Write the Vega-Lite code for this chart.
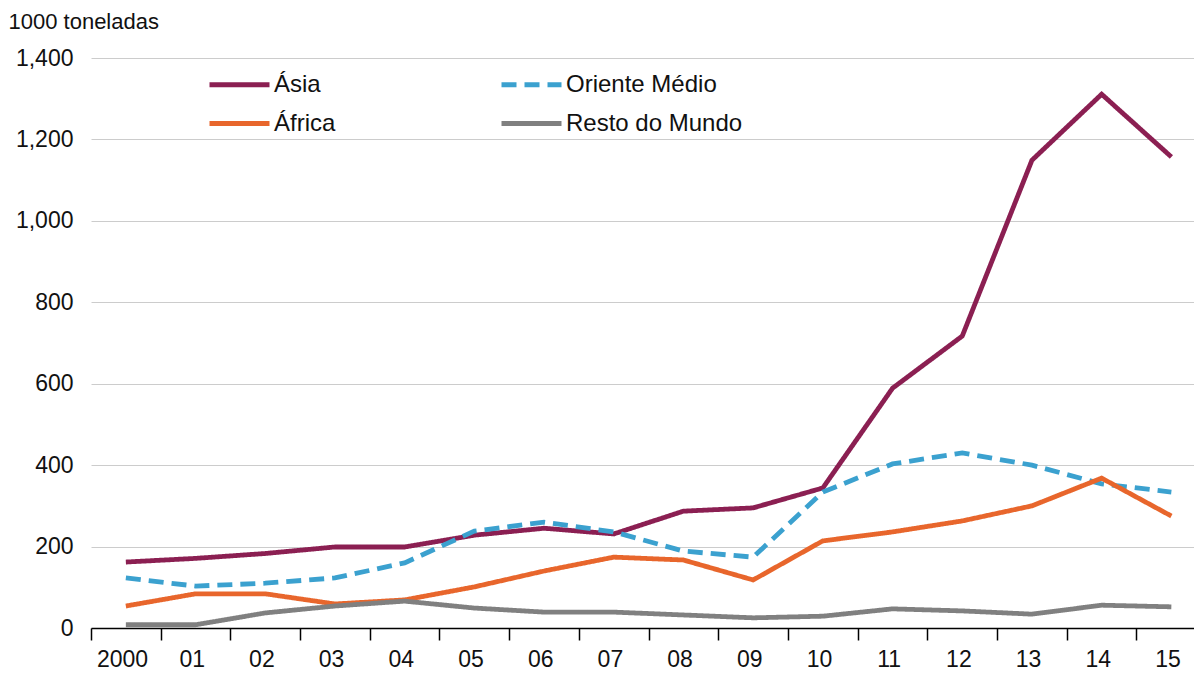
{
  "$schema": "https://vega.github.io/schema/vega-lite/v6.json",
  "width": 1103,
  "height": 570,
  "autosize": {"type": "none"},
  "padding": {"left": 91, "top": 58, "right": 0, "bottom": 46},
  "background": "white",
  "config": {"view": {"stroke": null}, "font": "Liberation Sans"},
  "data": {"values": [
    {"ano": 2000, "regiao": "Ásia", "valor": 162},
    {"ano": 2001, "regiao": "Ásia", "valor": 171},
    {"ano": 2002, "regiao": "Ásia", "valor": 183},
    {"ano": 2003, "regiao": "Ásia", "valor": 199},
    {"ano": 2004, "regiao": "Ásia", "valor": 199},
    {"ano": 2005, "regiao": "Ásia", "valor": 228},
    {"ano": 2006, "regiao": "Ásia", "valor": 245},
    {"ano": 2007, "regiao": "Ásia", "valor": 231},
    {"ano": 2008, "regiao": "Ásia", "valor": 287},
    {"ano": 2009, "regiao": "Ásia", "valor": 295},
    {"ano": 2010, "regiao": "Ásia", "valor": 344},
    {"ano": 2011, "regiao": "Ásia", "valor": 589},
    {"ano": 2012, "regiao": "Ásia", "valor": 717},
    {"ano": 2013, "regiao": "Ásia", "valor": 1149},
    {"ano": 2014, "regiao": "Ásia", "valor": 1311},
    {"ano": 2015, "regiao": "Ásia", "valor": 1157},
    {"ano": 2000, "regiao": "Oriente Médio", "valor": 123},
    {"ano": 2001, "regiao": "Oriente Médio", "valor": 103},
    {"ano": 2002, "regiao": "Oriente Médio", "valor": 110},
    {"ano": 2003, "regiao": "Oriente Médio", "valor": 123},
    {"ano": 2004, "regiao": "Oriente Médio", "valor": 160},
    {"ano": 2005, "regiao": "Oriente Médio", "valor": 238},
    {"ano": 2006, "regiao": "Oriente Médio", "valor": 260},
    {"ano": 2007, "regiao": "Oriente Médio", "valor": 236},
    {"ano": 2008, "regiao": "Oriente Médio", "valor": 189},
    {"ano": 2009, "regiao": "Oriente Médio", "valor": 174},
    {"ano": 2010, "regiao": "Oriente Médio", "valor": 334},
    {"ano": 2011, "regiao": "Oriente Médio", "valor": 403},
    {"ano": 2012, "regiao": "Oriente Médio", "valor": 430},
    {"ano": 2013, "regiao": "Oriente Médio", "valor": 400},
    {"ano": 2014, "regiao": "Oriente Médio", "valor": 354},
    {"ano": 2015, "regiao": "Oriente Médio", "valor": 334},
    {"ano": 2000, "regiao": "África", "valor": 54},
    {"ano": 2001, "regiao": "África", "valor": 84},
    {"ano": 2002, "regiao": "África", "valor": 84},
    {"ano": 2003, "regiao": "África", "valor": 59},
    {"ano": 2004, "regiao": "África", "valor": 69},
    {"ano": 2005, "regiao": "África", "valor": 101},
    {"ano": 2006, "regiao": "África", "valor": 140},
    {"ano": 2007, "regiao": "África", "valor": 174},
    {"ano": 2008, "regiao": "África", "valor": 167},
    {"ano": 2009, "regiao": "África", "valor": 118},
    {"ano": 2010, "regiao": "África", "valor": 214},
    {"ano": 2011, "regiao": "África", "valor": 236},
    {"ano": 2012, "regiao": "África", "valor": 263},
    {"ano": 2013, "regiao": "África", "valor": 300},
    {"ano": 2014, "regiao": "África", "valor": 368},
    {"ano": 2015, "regiao": "África", "valor": 275},
    {"ano": 2000, "regiao": "Resto do Mundo", "valor": 8},
    {"ano": 2001, "regiao": "Resto do Mundo", "valor": 8},
    {"ano": 2002, "regiao": "Resto do Mundo", "valor": 37},
    {"ano": 2003, "regiao": "Resto do Mundo", "valor": 54},
    {"ano": 2004, "regiao": "Resto do Mundo", "valor": 66},
    {"ano": 2005, "regiao": "Resto do Mundo", "valor": 49},
    {"ano": 2006, "regiao": "Resto do Mundo", "valor": 39},
    {"ano": 2007, "regiao": "Resto do Mundo", "valor": 39},
    {"ano": 2008, "regiao": "Resto do Mundo", "valor": 32},
    {"ano": 2009, "regiao": "Resto do Mundo", "valor": 25},
    {"ano": 2010, "regiao": "Resto do Mundo", "valor": 29},
    {"ano": 2011, "regiao": "Resto do Mundo", "valor": 47},
    {"ano": 2012, "regiao": "Resto do Mundo", "valor": 42},
    {"ano": 2013, "regiao": "Resto do Mundo", "valor": 34},
    {"ano": 2014, "regiao": "Resto do Mundo", "valor": 56},
    {"ano": 2015, "regiao": "Resto do Mundo", "valor": 52}
  ]},
  "mark": {"type": "line", "strokeWidth": 4.8, "strokeCap": "butt"},
  "encoding": {
    "x": {
      "field": "ano", "type": "quantitative",
      "scale": {"domain": [1999.5, 2015.325], "nice": false, "zero": false},
      "axis": {
        "title": null, "grid": false,
        "values": [2000,2001,2002,2003,2004,2005,2006,2007,2008,2009,2010,2011,2012,2013,2014,2015],
        "domainColor": "#000000", "domainWidth": 1.5,
        "tickColor": "#000000", "tickWidth": 1.5, "tickSize": 12,
        "tickOffset": -34.85, "labelOffset": 31,
        "labelPadding": 8, "labelFontSize": 23, "labelColor": "#111111",
        "labelFlush": false, "labelOverlap": false,
        "labelExpr": "datum.value == 2000 ? '2000' : (datum.value < 2010 ? '0' : '') + (datum.value - 2000)"
      }
    },
    "y": {
      "field": "valor", "type": "quantitative",
      "scale": {"domain": [0, 1400], "nice": false},
      "axis": {
        "values": [0,200,400,600,800,1000,1200,1400],
        "format": ",.0f", "domain": false, "ticks": false,
        "gridColor": "#cccccc", "gridWidth": 1,
        "labelFontSize": 23, "labelColor": "#111111", "labelPadding": 18,
        "title": "1000 toneladas", "titleAngle": 0, "titleAlign": "left",
        "titleBaseline": "alphabetic", "titleX": -83, "titleY": -30,
        "titleFontSize": 22, "titleFontWeight": "normal", "titleColor": "#111111"
      }
    },
    "color": {
      "field": "regiao", "type": "nominal",
      "scale": {"domain": ["Ásia", "Oriente Médio", "África", "Resto do Mundo"],
                "range": ["#8b1f52", "#3ba1cf", "#e8662c", "#808080"]},
      "legend": {
        "title": null, "orient": "none", "legendX": 116, "legendY": 9,
        "columns": 2, "direction": "horizontal",
        "symbolType": "M-2,0L2,0", "symbolSize": 900, "symbolStrokeWidth": 5, "symbolOffset": 15,
        "labelFontSize": 24, "labelColor": "#111111", "labelOffset": 17, "labelLimit": 300,
        "rowPadding": 9, "columnPadding": 155
      }
    },
    "strokeDash": {
      "field": "regiao", "type": "nominal",
      "scale": {"domain": ["Ásia", "Oriente Médio", "África", "Resto do Mundo"],
                "range": [[1, 0], [15, 8], [1, 0], [1, 0]]},
      "legend": {
        "title": null, "orient": "none", "legendX": 116, "legendY": 9,
        "columns": 2, "direction": "horizontal",
        "symbolType": "M-2,0L2,0", "symbolSize": 900, "symbolStrokeWidth": 5, "symbolOffset": 15,
        "labelFontSize": 24, "labelColor": "#111111", "labelOffset": 17, "labelLimit": 300,
        "rowPadding": 9, "columnPadding": 155
      }
    }
  }
}
